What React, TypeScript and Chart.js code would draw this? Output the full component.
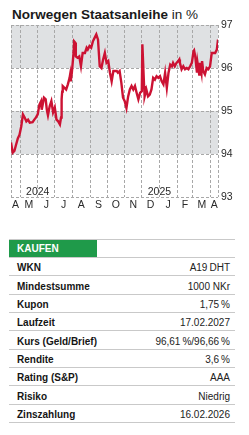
import React, { useEffect, useRef } from 'react';
import { Chart, registerables } from 'chart.js';

Chart.register(...registerables);

// ---------- data ----------
const startDate = '2024-04-15';
const endOffset = 364; // days after startDate (2025-04-14)

const dayOffsets = [
  0, 3, 6, 9, 12, 15, 18, 21, 24, 27,
  30, 33, 38, 41, 44, 47, 50, 53, 54, 58,
  61, 63, 65, 68, 71, 74, 77, 80, 83, 86,
  88, 89, 90, 91, 94, 97, 100, 103, 104, 105,
  107, 110, 111, 113, 114, 117, 120, 123, 126, 130,
  133, 135, 138, 141, 144, 147, 150, 153, 156, 159,
  162, 165, 168, 171, 174, 177, 180, 186, 188, 191,
  194, 197, 200, 203, 206, 209, 212, 215, 218, 221,
  224, 227, 230, 231, 232, 234, 235, 238, 241, 244,
  247, 250, 253, 256, 259, 262, 265, 268, 271, 274,
  277, 280, 283, 285, 288, 291, 294, 296, 297, 300,
  303, 306, 309, 312, 315, 318, 321, 322, 324, 327,
  328, 331, 332, 335, 336, 338, 341, 344, 347, 350,
  353, 356, 359, 362, 364,
];

const prices = [
  94.27, 94.03, 94.07, 94.22, 94.36, 94.45, 94.64, 94.92, 94.85, 94.76,
  94.8, 94.73, 94.74, 94.8, 94.85, 94.92, 95.15, 95.23, 95.03, 95.31,
  95.27, 95.03, 94.9, 95.11, 95.23, 94.97, 95.08, 94.8, 94.76, 94.69,
  94.85, 95.27, 95.45, 95.58, 95.54, 95.5, 95.62, 95.77, 95.85, 95.69,
  95.89, 96.35, 96.62, 96.59, 96.27, 96.24, 96.27, 96.04, 96.35, 96.35,
  96.47, 96.43, 96.51, 96.47, 96.62, 96.7, 96.78, 96.66, 96.04, 96.0,
  96.2, 96.35, 96.12, 96.16, 95.89, 95.69, 95.93, 95.93, 95.89, 95.93,
  95.66, 95.31, 95.23, 95.07, 95.34, 95.5, 95.58, 95.5, 95.58, 95.42,
  95.27, 95.42, 95.46, 96.55, 96.55, 95.58, 95.34, 95.5, 95.34, 95.38,
  95.5, 95.77, 95.73, 95.81, 95.77, 95.81, 95.69, 95.62, 95.89, 95.54,
  95.89, 96.08, 96.04, 96.12, 96.04, 96.12, 96.16, 96.2, 96.12, 95.97,
  96.04, 95.97, 96.0, 95.97, 96.04, 96.12, 96.39, 96.41, 96.27, 95.89,
  96.12, 95.85, 96.12, 95.89, 96.16, 95.93, 95.85, 96.0, 95.97, 96.04,
  96.35, 96.35, 96.35, 96.43, 96.66,
];

const yTicks = [93, 94, 95, 96, 97];
const shadedBands = [
  [96, 97],
  [94, 95],
];
const monthLetters = ['J', 'F', 'M', 'A', 'M', 'J', 'J', 'A', 'S', 'O', 'N', 'D'];
const yearLabels = ['2024', '2025'];
const yearLabelDates = ['2024-06-01', '2025-01-01'];

const titleBold = 'Norwegen Staatsanleihe';
const titleUnit = 'in %';
const verdict = 'KAUFEN';
const tableLabels = [
  'WKN',
  'Mindestsumme',
  'Kupon',
  'Laufzeit',
  'Kurs (Geld/Brief)',
  'Rendite',
  'Rating (S&P)',
  'Risiko',
  'Zinszahlung',
];
const tableValues = [
  'A19\u2009DHT',
  '1000 NKr',
  '1,75\u2009%',
  '17.02.2027',
  '96,61\u2009%/96,66\u2009%',
  '3,6\u2009%',
  'AAA',
  'Niedrig',
  '16.02.2026',
];

// ---------- helpers ----------
const FONT = '"Liberation Sans", Arial, Helvetica, sans-serif';
const startParts = startDate.split('-').map(Number);
const startUTC = Date.UTC(startParts[0], startParts[1] - 1, startParts[2]);
const dayOfUTC = (y: number, m: number, d: number) =>
  Math.round((Date.UTC(y, m, d) - startUTC) / 864e5);
const dayOfIso = (iso: string) => {
  const [y, m, d] = iso.split('-').map(Number);
  return dayOfUTC(y, m - 1, d);
};

function buildMonths() {
  const starts: number[] = [];
  const mids: { value: number; label: string }[] = [];
  let y = startParts[0];
  let m = startParts[1] - 1;
  while (dayOfUTC(y, m, 1) <= endOffset) {
    const s = Math.max(dayOfUTC(y, m, 1), 0);
    const ny = m === 11 ? y + 1 : y;
    const nm = (m + 1) % 12;
    const e = Math.min(dayOfUTC(ny, nm, 1), endOffset);
    if (dayOfUTC(y, m, 1) > 0) starts.push(dayOfUTC(y, m, 1));
    mids.push({ value: (s + e) / 2, label: monthLetters[m] });
    y = ny;
    m = nm;
  }
  return { starts, mids };
}

const GRID = '#a8a8a8';
const TEXT = '#2a2a2a';

export default function App() {
  const canvasRef = useRef<HTMLCanvasElement | null>(null);

  useEffect(() => {
    if (!canvasRef.current) return;
    const { starts, mids } = buildMonths();

    const bandsPlugin = {
      id: 'bands',
      beforeDraw(chart: any) {
        const { ctx, chartArea, scales } = chart;
        ctx.save();
        ctx.fillStyle = '#dfe1e3';
        shadedBands.forEach(([a, b]) => {
          const y1 = scales.y.getPixelForValue(b);
          const y2 = scales.y.getPixelForValue(a);
          ctx.fillRect(chartArea.left, y1, chartArea.right - chartArea.left, y2 - y1);
        });
        ctx.restore();
      },
    };

    const yearPlugin = {
      id: 'years',
      afterDraw(chart: any) {
        const { ctx, chartArea, scales } = chart;
        ctx.save();
        ctx.font = `10.5px ${FONT}`;
        ctx.fillStyle = TEXT;
        ctx.textAlign = 'center';
        ctx.textBaseline = 'middle';
        yearLabels.forEach((t, i) => {
          const x = scales.x.getPixelForValue(dayOfIso(yearLabelDates[i]));
          ctx.fillText(t, x, chartArea.bottom - 5);
        });
        ctx.restore();
      },
    };

    const chart = new Chart(canvasRef.current, {
      type: 'line',
      data: {
        datasets: [
          {
            data: dayOffsets.map((d, i) => ({ x: d, y: prices[i] })),
            borderColor: '#cc1233',
            borderWidth: 2.4,
            pointRadius: 0,
            tension: 0,
            fill: false,
            borderJoinStyle: 'miter',
          },
        ],
      },
      options: {
        animation: false,
        responsive: false,
        events: [],
        layout: { padding: { top: 25, left: 11, right: 0, bottom: 0 } },
        plugins: { legend: { display: false }, tooltip: { enabled: false } },
        scales: {
          x: {
            type: 'linear',
            min: 0,
            max: endOffset,
            position: 'bottom',
            afterBuildTicks: (s: any) => {
              s.ticks = [0, ...starts.filter((v) => v < endOffset), endOffset].map((v) => ({ value: v }));
            },
            afterFit: (s: any) => {
              s.height = 0;
            },
            ticks: { display: false },
            grid: { color: GRID, lineWidth: 1, drawTicks: false },
            border: { display: false, dash: [3, 2] },
          },
          xm: {
            type: 'linear',
            min: 0,
            max: endOffset,
            position: 'bottom',
            afterBuildTicks: (s: any) => {
              s.ticks = mids.map((m) => ({ value: m.value }));
            },
            afterFit: (s: any) => {
              s.height = 18;
            },
            ticks: {
              autoSkip: false,
              maxRotation: 0,
              padding: 2,
              color: TEXT,
              font: { family: FONT, size: 10.5 },
              callback: (_v: any, i: number) => mids[i]?.label ?? '',
            },
            grid: { display: false, drawTicks: false },
            border: { display: false },
          },
          y: {
            type: 'linear',
            position: 'right',
            min: 93,
            max: 97,
            afterBuildTicks: (s: any) => {
              s.ticks = yTicks.map((v) => ({ value: v }));
            },
            afterFit: (s: any) => {
              s.width = 31;
            },
            ticks: {
              padding: 3,
              color: TEXT,
              font: { family: FONT, size: 10.5 },
              callback: (v: any) => String(v),
            },
            grid: { color: GRID, lineWidth: 1, drawTicks: false },
            border: { display: false, dash: [3, 2] },
          },
        },
      } as any,
      plugins: [bandsPlugin, yearPlugin],
    });

    return () => chart.destroy();
  }, []);

  const rowTop0 = 257;
  const rowH = 18.33;

  return (
    <div
      style={{
        position: 'relative',
        width: 249,
        height: 435,
        margin: -8,
        overflow: 'hidden',
        background: '#fff',
        fontFamily: FONT,
        color: '#151515',
      }}
    >
      <div
        style={{
          position: 'absolute',
          left: 12,
          top: 7,
          fontSize: 13.5,
          lineHeight: '16px',
          whiteSpace: 'nowrap',
          color: '#1a1a1a',
        }}
      >
        <span style={{ fontWeight: 700 }}>{titleBold}</span> <span>{titleUnit}</span>
      </div>
      <canvas
        ref={canvasRef}
        width={249}
        height={215}
        style={{ position: 'absolute', left: 0, top: 0, width: 249, height: 215 }}
      />
      {/* table */}
      <div style={{ position: 'absolute', left: 9, top: 239, width: 226, height: 1, background: '#c9c9c9' }} />
      <div
        style={{
          position: 'absolute',
          left: 9,
          top: 240,
          width: 88,
          height: 17,
          background: '#1f9a4a',
          color: '#fff',
          fontWeight: 700,
          fontSize: 10,
          lineHeight: '17px',
          paddingLeft: 8,
          boxSizing: 'border-box',
        }}
      >
        {verdict}
      </div>
      {tableLabels.map((label, i) => {
        const top = rowTop0 + i * rowH;
        return (
          <React.Fragment key={label}>
            <div
              style={{
                position: 'absolute',
                left: 9,
                top: Math.round(top),
                width: 226,
                height: 1,
                background: '#c9c9c9',
              }}
            />
            <div
              style={{
                position: 'absolute',
                left: 17,
                top: top + 2.3,
                fontSize: 10,
                lineHeight: '17px',
                fontWeight: 700,
                whiteSpace: 'nowrap',
              }}
            >
              {label}
            </div>
            <div
              style={{
                position: 'absolute',
                right: 19,
                top: top + 2.3,
                fontSize: 10,
                lineHeight: '17px',
                whiteSpace: 'nowrap',
                textAlign: 'right',
                color: '#222',
              }}
            >
              {tableValues[i]}
            </div>
          </React.Fragment>
        );
      })}
      <div
        style={{
          position: 'absolute',
          left: 9,
          top: Math.round(rowTop0 + tableLabels.length * rowH),
          width: 226,
          height: 1,
          background: '#c9c9c9',
        }}
      />
    </div>
  );
}
